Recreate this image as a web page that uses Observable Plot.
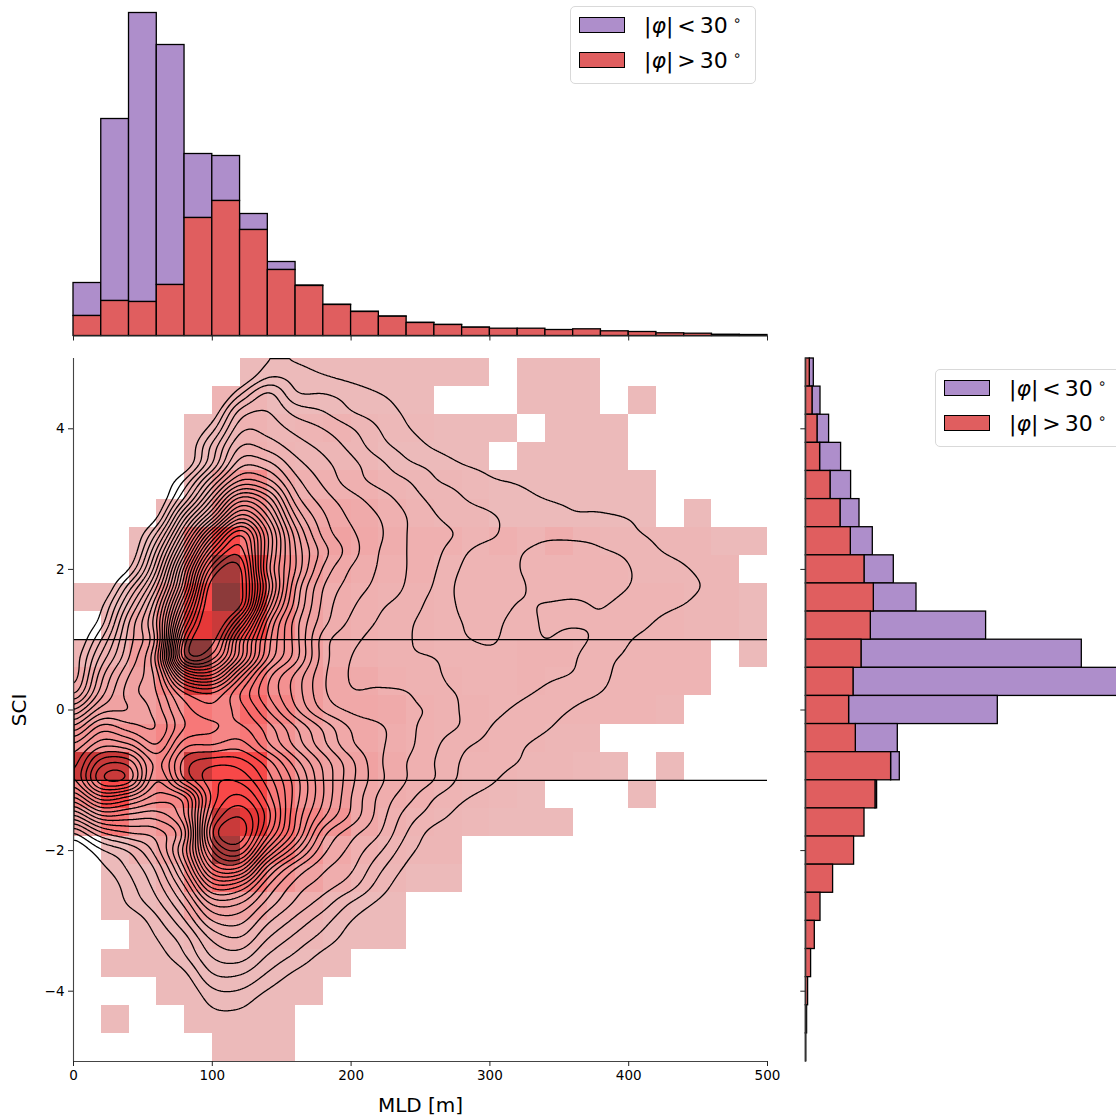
<!DOCTYPE html>
<html>
<head>
<meta charset="utf-8">
<script src="https://cdn.jsdelivr.net/npm/d3@7"></script>
<script src="https://cdn.jsdelivr.net/npm/@observablehq/plot@0.6"></script>
<style>
  html, body { margin: 0; padding: 0; background: #fff; overflow: hidden; }
  #page { position: relative; width: 1116px; height: 1117px; overflow: hidden; font-family: "DejaVu Sans", sans-serif; }
  #page > div.panel { position: absolute; }
  #page svg { display: block; overflow: hidden; }
  .legend { position: absolute; width: 186px; height: 78px; box-sizing: border-box; background: rgba(255,255,255,.9); border: 1.3px solid #d9d9d9; border-radius: 5px; }
  .swatch { position: absolute; left: 8px; width: 46px; height: 16px; box-sizing: border-box; border: 1.3px solid #000; }
  .ltext { position: absolute; left: 73px; font-size: 22px; line-height: 26px; white-space: pre; color: #000; }
  .ltext i { font-style: italic; }
  .ltext .op { margin: 0 4px; }
  .ltext .deg { font-size: 14px; position: relative; top: -8px; margin-left: 5px; }
</style>
</head>
<body>
<div id="page"></div>
<script>
// ---------- colours / labels
const purple = "#ae8ecb";
const red = "#e05e5f";
const xTicks = [0, 100, 200, 300, 400, 500];
const yTicks = [-4, -2, 0, 2, 4];
const refLines = [1, -1];

// ---------- marginal histogram over MLD (bin width 20 m), heights read in picture units
const mldLow = [33, 182, 289, 240, 64, 45, 16, 8, 0.5, 0.3, 0.3, 0.2, 0.2, 0.1, 0.1, 0, 0, 0, 0, 0, 0, 0, 0, 0, 0];
const mldHigh = [20, 35, 34, 51, 118, 135, 106, 66, 50, 31, 24, 19.3, 13, 11, 8.3, 7.3, 7.3, 6, 6.7, 4.7, 4, 2.7, 2.3, 1.3, 1];

// ---------- marginal histogram over SCI (bin height 0.4), top bin first
const sciHigh = [4, 6.7, 11.7, 14.3, 24.7, 34.7, 45, 58.7, 68, 65, 55.7, 47.7, 43.3, 50, 85.3, 69.7, 58.7, 48.3, 27.3, 14.7, 9, 5.3, 2.3, 1.3, 0.4];
const sciLow = [4, 8, 11.6, 21, 20.6, 19, 22, 29.3, 42.7, 115.3, 220.3, 270, 148.7, 42, 8.7, 1.6, 0, 0, 0, 0, 0, 0, 0, 0, 0];

// ---------- 2-D histogram shades, top row (SCI 4.6..5) first, columns 20 m wide
const heatRows = [
 [0,0,0,0,0,0,1,1,1,1,1,1,1,1,1,0,1,1,1],
 [0,0,0,0,0,1.3,1.3,1,1,1,1,1,1,0,0,0,1,1,1,0,1],
 [0,0,0,0,1,1.2,1.4,1.2,1.3,1.4,1.2,1.1,1.1,1,1,1,0,1,1,1],
 [0,0,0,0,1,1.3,1.5,1.3,1.2,1.2,1.2,1,1,1,1,0,1,1,1,1],
 [0,0,0,0,1.3,2.2,2.8,1.8,1.5,1.5,1.5,1.3,1.2,1.2,1.1,1,1,1,1,1,1],
 [0,0,0,1.2,1.5,2.8,2.8,2,1.8,1.8,1.7,1.5,1.3,1.2,1.2,1,1,1,1,1,1,0,1],
 [0,0,1,1.5,3.5,5,3.5,2.3,2,2,1.8,1.6,1.5,1.5,1.3,1.5,1.3,1.6,1.3,1.2,1.2,1.2,1.2,1,1],
 [0,0,1.2,1.8,4,8,5,2.8,2.2,1.8,1.6,1.5,1.5,1.3,1.3,1.3,1.3,1.3,1.3,1.3,1.2,1.2,1.2,1.2],
 [1,1,1.5,2.5,5,9,6,3,2,1.6,1.5,1.4,1.4,1.3,1.3,1.3,1.3,1.3,1.3,1.3,1.3,1.3,1.2,1.2,1],
 [0,1.3,1.8,3,6,7,5,3,2,1.6,1.5,1.4,1.4,1.3,1.3,1.3,1.3,1.3,1.3,1.3,1.3,1.3,1.2,1.2,1],
 [1.3,1.5,2.2,3.5,9,3.2,3.2,2.5,2.1,1.6,1.5,1.4,1.4,1.3,1.3,1.3,1.4,1.4,1.3,1.3,1.3,1.3,1.3,0,1],
 [1.8,1.8,2,3,6.5,3.5,3.5,2.6,2.2,1.8,1.7,1.5,1.4,1.4,1.3,1.3,1.4,1.3,1.3,1.3,1.3,1.3,1.3],
 [2,2,2,2.5,3.5,3,4,3,2.2,1.8,1.8,1.7,1.5,1.4,1.4,1.3,1.3,1.3,1.3,1.3,1.3,1.2],
 [2.5,2.5,2.5,3,3.5,3,3.5,2.5,2,1.8,1.8,1.6,1.5,1.4,1.4,1.3,1.3,1.2,1.2],
 [7,7,2.5,3,7,5,5,3,2.2,2,2,1.7,1.5,1.4,1.3,1.3,1.2,1.2,1.1,1,0,1],
 [3,5,2.5,3,4,5,5,3.5,2.5,2.2,1.8,1.6,1.5,1.3,1.2,1.1,1,0,0,0,1],
 [2,3.5,2,2.5,3,7,6,4,3,2.5,1.8,1.5,1.3,1.2,1.1,1,1,1],
 [0,1,1.5,2,3,8,4,3.5,2.5,1.8,1.5,1.3,1.2,1.2],
 [0,1,1,1.5,3,4,3.5,2.5,2,1.6,1.3,1.2,1,1],
 [0,1,1,1.2,2,2,2,1.5,1.5,1.2,1,1],
 [0,0,1,1,1.2,1.4,1.3,1.2,1.2,1,1,1],
 [0,1,1,1,1,1,1,1,1,1],
 [0,0,0,1,1,1,1,1,1],
 [0,1,0,0,1,1,1,1],
 [0,0,0,0,0,1,1,1]
];
const heatDomain = [1, 1.5, 2, 3, 4, 5, 6, 7, 8, 9];
const heatRange = ["#ecbaba", "#efb0b0", "#f0a2a2", "#f58686", "#f86a6a", "#f84848", "#e63838", "#c93a3a", "#a63b3b", "#8c3a3a"];

// ---------- density levels: how many contours enclose a point.
const levelCols = [0,20,40,60,80,100,120,140,160,180,200,220,240,260,280,300,320,340,360,380,400,420,440,460,480,500];
const levelSci = [5,4.75,4.5,4.25,4,3.75,3.5,3.25,3,2.75,2.5,2.25,2,1.75,1.5,1.25,1,.75,.5,.25,0,-.25,-.5,-.75,-1,-1.25,-1.5,-1.75,-2,-2.25,-2.5,-2.75,-3,-3.25,-3.5,-3.75,-4,-4.25,-4.5,-4.75,-5];
const levelRows = [
 [-3,-3,-3,-3,-3,-2,-.8,.9,.85,.2,-.5,-1,-2],
 [-3,-3,-3,-3,-3,-2,-.4,1.8,1.6,1.1,.6,0,-.5],
 [-3,-3,-3,-3,-2,-1.5,1.8,4.2,2.1,2,1.6,1.05,.4,-.3],
 [-3,-3,-3,-2,-1.5,0,4.3,5,3.6,3,2,1.5,.8,0,-.8],
 [-3,-3,-3,-2,-.8,1.6,5.7,5.6,4.7,4,3.1,2,1.1,.4,-.3],
 [-3,-3,-2,-1.5,-.3,3.3,7,6.6,5.5,4.7,3.7,2.4,1.6,.85,.2,-.4],
 [-3,-3,-2,-1,0,4,8.6,8.3,6.4,5.3,4.3,3.3,2.2,1.7,1,.6,0,-.6],
 [-3,-2,-1.5,-.5,2.2,7,11.2,10.4,7.4,5.8,4.5,3.7,3.1,2.1,1.7,1.15,.9,.4,-.2],
 [-3,-2,-1,-.3,4.2,10,15.5,13.6,8.5,6.5,5.4,4.5,3.6,2.7,2.05,1.7,1.35,1,.8,.6,.2,-.3],
 [-2,-2,-1,.8,7.5,13.5,19.5,16,10,7.2,5.8,5,4,3.1,2.4,2.1,1.7,1.4,1.1,1.1,.95,.5,0],
 [-2,-1.5,-.5,3.2,10.5,18.5,24,18,11.5,7.7,6.2,5.2,4,3.5,2.8,2.2,1.6,1.8,1.8,1.7,1.2,.8,.3,-.2],
 [-2,-1,-.2,5.3,13.5,22.5,25.6,18,12,8.5,6.5,5,4,3.3,2.2,1.5,1.9,2.3,2.3,2.1,1.8,1.1,.7,.2,-.3],
 [-2,-.8,1,7,16.5,25.8,27.3,17.5,12,7.8,5.9,4.9,4,3.1,1.9,1.4,1.95,2.5,2.6,2.5,2.05,1.5,1.1,.6,0],
 [-1.5,-.5,3.5,9,18,28,27.6,18.5,11,7,5.6,4.7,3.9,2.9,1.7,1.3,1.8,2.4,2.4,2.35,2,1.55,1.25,.8,.2,-.2],
 [-1,.7,5.4,11,20.5,28.6,27.4,17,10.5,6.7,5.2,4.2,3.6,2.6,1.85,1.35,2.05,1.95,1.85,2.05,1.7,1.3,1,.5,.1,-.2],
 [-.5,1.5,7,12,23,28.5,23.5,14.5,9.5,6.4,4.8,3.9,3.2,2.5,2,1.7,2.3,1.9,1.9,1.9,1.4,.95,.5,.1,-.2,-.5],
 [-.3,3,7.5,11.5,25.5,27.5,20,13.5,9.5,5.5,4.3,3.6,3.1,2.6,2.1,1.9,2.3,2,2.2,1.75,1.05,.7,.3,0,-.3,-.5],
 [.3,4.3,8,12.5,26,25.5,19.5,13,9.5,5.5,4,3.5,3.1,3,2.6,2.2,2.25,2.2,2.1,1.3,.85,.4,0,-.3,-.5,-.5],
 [.3,5.6,9,11.5,20,21,15.5,10.5,7.8,5.2,3.9,3.5,3.3,3.1,2.7,2.4,2.3,2.15,1.95,1.25,.6,.2,-.2,-.5],
 [1.6,6.5,9.5,11,15,16,13,10,7.6,5.2,4.1,4.2,4.05,3.3,2.9,2.5,2.2,1.85,1.35,1,.5,0,-.5],
 [5,8.5,9,10.5,13.5,14.7,13.5,11,8.2,5.8,4.8,4.4,4.2,3.8,2.9,2.3,1.85,1.4,.95,.6,.2,-.2,-.5],
 [8.3,11.5,10.5,10,13,13.8,14.2,12.5,10.1,7.8,5.9,5.2,4.3,3.5,2.9,2,1.55,1.1,.6,.2,-.3,-.5],
 [11.2,13.7,13.2,11,14.7,15,15.5,13.2,10.7,8.3,6.2,5.2,4.3,3.2,2.2,1.7,1.15,.7,.2,-.3,-.5],
 [12.5,16.6,16.6,12.7,16.5,17.7,17.5,15.5,12.5,9.7,7.3,5.2,4,3,1.9,1.35,1,.5,0,-.5],
 [12.7,17.8,17.6,12,16,18.7,18.8,16.5,13.5,10,7.3,5.3,4,3,1.75,1.15,.6,.2,-.2,-.5],
 [9.7,13.5,12.5,10.5,11.5,18.3,20.3,17.5,13.5,10,7,4.8,3.4,2,1.15,.6,.1,-.3,-.5],
 [5.8,9,8.7,8.5,11,19.5,21.9,18.5,13,9.3,6.8,4.6,2.6,1.5,.6,0,-.5],
 [1.9,4.8,6,6.5,9.5,21,22.8,17.5,12.5,7.4,5.4,4.1,2,.6,0,-.5],
 [-.3,1.8,3.1,5.6,10.5,19,20.9,14.5,10,6.3,4.7,3.2,1.4,.3,-.5],
 [-1,.7,2.2,4.3,9,16.2,16.8,10.5,7,5.2,4.2,2.3,.8,-.2,-.8],
 [-2,-.2,1.6,3.5,7,12.5,12,8,5.6,4.5,3.4,1.6,.3,-.5],
 [-2,-.6,1.2,2.7,5.3,9.2,9,6.6,4.8,3.5,1.9,.8,.1,-.5],
 [-2,-1,0,1.7,3.9,7,7.3,5.2,3.7,2.4,1,.2,-.3],
 [-2,-1.5,-.5,1,2.6,5.2,5.9,4,2.7,1.6,.5,-.2],
 [-2,-2,-1,.4,1.9,4.1,4.5,2.9,1.8,.7,0,-.5],
 [-2,-2,-1.5,-.3,.8,3,3.1,1.9,.8,.1,-.5],
 [-2,-2,-2,-1,0,1.8,1.9,.9,0,-.5],
 [-2,-2,-2,-2,-.7,.95,1,0,-.5],
 [-2,-2,-2,-2,-1.5,-.2,-.2,-.5,-1],
 [-2,-2,-2,-2,-2,-2,-2,-2,-2],
 [-2,-2,-2,-2,-2,-2,-2,-2,-2]
];
const contourLevels = d3.range(1, 28);

// ---------- tables for the marks
const mldBars = mldHigh.map((h, i) => ({x1: i * 20, x2: (i + 1) * 20, high: h, total: h + mldLow[i]}));
const sciBars = sciHigh.map((h, i) => ({y1: 4.6 - .4 * i, y2: 5 - .4 * i, high: h, total: h + sciLow[i]}));
const heatCells = heatRows.flatMap((row, r) => row.map((v, c) => ({x1: c * 20, x2: (c + 1) * 20, y1: 4.6 - .4 * r, y2: 5 - .4 * r, v}))).filter(d => d.v > 0);
const levelPoints = levelSci.flatMap((s, r) => levelCols.map((m, c) => ({mld: m, sci: s, level: levelRows[r][c] ?? -1})));

// Plot.contour "interpolate" hook: smooth surface through the regular grid of levels.
function smoothGrid(index, w, h, X, Y, V) {
  const nc = levelCols.length, nr = levelSci.length;
  const x0 = X[0], dx = X[1] - X[0], y0 = Y[0], dy = Y[nc] - Y[0];
  const W = new Float64Array(w * h);
  const cr = (a, b, c, d, t) => b + .5 * t * (c - a + t * (2 * a - 5 * b + 4 * c - d + t * (3 * (b - c) + d - a)));
  const at = (r, c) => V[Math.max(0, Math.min(nr - 1, r)) * nc + Math.max(0, Math.min(nc - 1, c))];
  for (let py = 0; py < h; ++py) {
    const v = Math.max(0, Math.min(nr - 1.0001, (py + .5 - y0) / dy));
    const r = Math.floor(v), tr = v - r;
    for (let px = 0; px < w; ++px) {
      const u = Math.max(0, Math.min(nc - 1.0001, (px + .5 - x0) / dx));
      const c = Math.floor(u), tc = u - c;
      const col = [-1, 0, 1, 2].map(o => cr(at(r + o, c - 1), at(r + o, c), at(r + o, c + 1), at(r + o, c + 2), tc));
      W[py * w + px] = cr(col[0], col[1], col[2], col[3], tr);
    }
  }
  return W;
}

const fmt = d => d < 0 ? "\u2212" + (-d) : String(d);
const baseStyle = {fontFamily: "DejaVu Sans, sans-serif", background: "transparent", color: "#000"};
const page = document.getElementById("page");
function place(el, left, top) {
  const wrap = document.createElement("div");
  wrap.className = "panel";
  wrap.style.left = left + "px";
  wrap.style.top = top + "px";
  wrap.appendChild(el);
  page.appendChild(wrap);
}

// ---------- top marginal
place(Plot.plot({
  width: 800, height: 345, marginLeft: 73, marginRight: 33, marginTop: 0, marginBottom: 9.5,
  style: baseStyle,
  x: {domain: [0, 500], axis: null},
  y: {domain: [0, 335.5], axis: null},
  marks: [
    Plot.rect(mldBars, {x1: "x1", x2: "x2", y1: "high", y2: "total", fill: purple, stroke: "black", strokeWidth: 1.3}),
    Plot.rect(mldBars, {x1: "x1", x2: "x2", y1: 0, y2: "high", fill: red, stroke: "black", strokeWidth: 1.3}),
    Plot.ruleY([0], {stroke: "#444", strokeWidth: 1.1}),
    Plot.axisX({ticks: xTicks, tickSize: 5, tickFormat: () => "", label: null, stroke: "#222"})
  ]
}), 0, 0);

// ---------- main panel
place(Plot.plot({
  width: 800, height: 777, marginLeft: 73, marginRight: 33, marginTop: 18, marginBottom: 56,
  style: baseStyle,
  x: {domain: [0, 500]},
  y: {domain: [-5, 5]},
  color: {type: "linear", domain: heatDomain, range: heatRange, interpolate: "rgb"},
  marks: [
    Plot.rect(heatCells, {x1: "x1", x2: "x2", y1: "y1", y2: "y2", fill: "v", shapeRendering: "crispEdges"}),
    Plot.contour(levelPoints, {x: "mld", y: "sci", value: "level", thresholds: contourLevels, interpolate: smoothGrid, pixelSize: 1, blur: 3, stroke: "black", strokeWidth: 1.3, fill: "none", clip: "frame"}),
    Plot.ruleY(refLines, {stroke: "black", strokeWidth: 1.3}),
    Plot.ruleX([0], {stroke: "#444", strokeWidth: 1.1}),
    Plot.ruleY([-5], {stroke: "#444", strokeWidth: 1.1}),
    Plot.axisX({ticks: xTicks, tickSize: 5, tickPadding: 4, fontSize: 13.5, label: null, stroke: "#222"}),
    Plot.axisY({ticks: yTicks, tickSize: 5, tickPadding: 4, fontSize: 13.5, label: null, tickFormat: fmt, stroke: "#222"}),
    Plot.axisX({ticks: [], tickSize: 0, fontSize: 20, label: "MLD [m]", labelAnchor: "center", labelArrow: "none", labelOffset: 50}),
    Plot.axisY({ticks: [], tickSize: 0, fontSize: 20, label: "SCI", labelAnchor: "center", labelArrow: "none", labelOffset: 62})
  ]
}), 0, 340);

// ---------- right marginal
place(Plot.plot({
  width: 326, height: 777, marginLeft: 15.3, marginRight: 0, marginTop: 18, marginBottom: 56,
  style: baseStyle,
  x: {domain: [0, 310.7], axis: null},
  y: {domain: [-5, 5], axis: null},
  marks: [
    Plot.rect(sciBars, {y1: "y1", y2: "y2", x1: "high", x2: "total", fill: purple, stroke: "black", strokeWidth: 1.3}),
    Plot.rect(sciBars, {y1: "y1", y2: "y2", x1: 0, x2: "high", fill: red, stroke: "black", strokeWidth: 1.3}),
    Plot.ruleX([0], {stroke: "#444", strokeWidth: 1.1}),
    Plot.axisY({ticks: yTicks, tickSize: 5, tickFormat: () => "", label: null, stroke: "#222"})
  ]
}), 790, 340);

// ---------- legends
function legend(left, top) {
  const box = document.createElement("div");
  box.className = "legend";
  box.style.left = left + "px";
  box.style.top = top + "px";
  const line = (op) => `|<i>\u03c6</i>|<span class="op">${op}</span>30<span class="deg">\u2218</span>`;
  box.innerHTML =
    `<div class="swatch" style="top:10px;background:${purple}"></div>` +
    `<div class="ltext" style="top:6px">${line("&lt;")}</div>` +
    `<div class="swatch" style="top:45px;background:${red}"></div>` +
    `<div class="ltext" style="top:41px">${line("&gt;")}</div>`;
  page.appendChild(box);
}
legend(570, 6);
legend(935, 369);
</script>
</body>
</html>
